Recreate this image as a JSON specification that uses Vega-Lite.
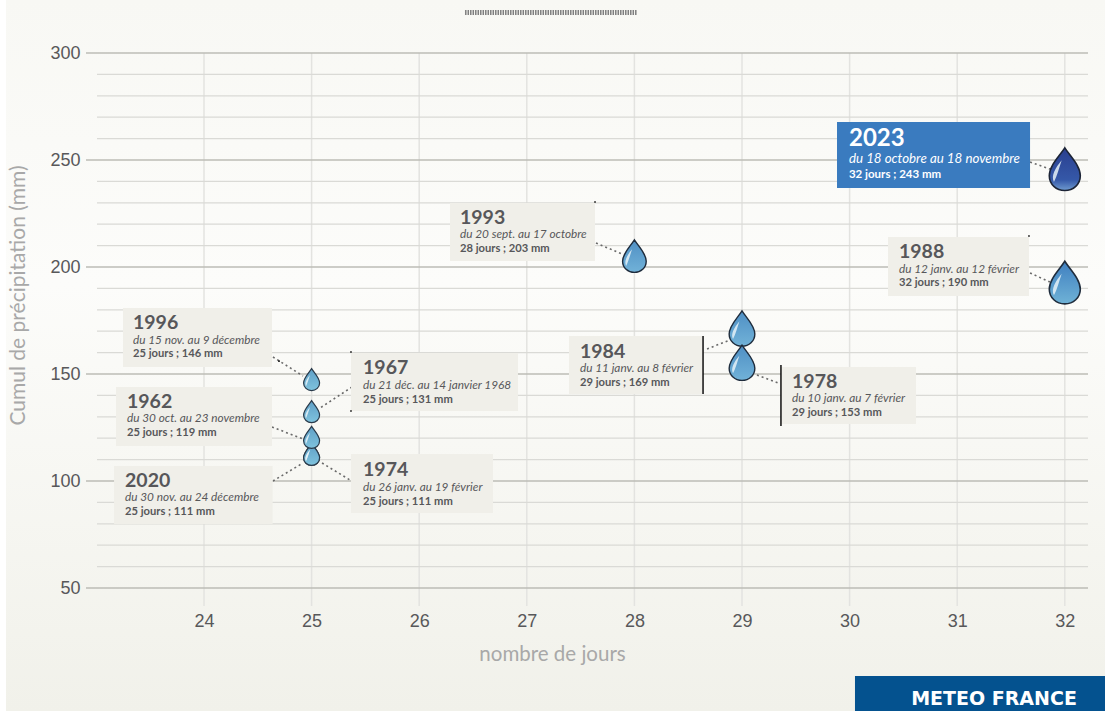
{
"$schema":"https://vega.github.io/schema/vega-lite/v6.json",
"width":991,"height":535,
"autosize":{"type":"none"},
"padding":{"left":97,"top":53,"right":17,"bottom":123},
"background":"#ffffff",
"config":{"view":{"stroke":null},"font":"Lato"},
"resolve":{"axis":{"x":"independent","y":"independent"}},
"datasets":{
"notes":[
{"year":"1996","period":"du 15 nov. au 9 décembre","detail":"25 jours ; 146 mm","bx0":23.247,"bx1":24.632,"by0":180.84,"by1":153.27,"tx":23.34,"t1":171.03,"t2":164.02,"t3":157.94,"lx0":24.641,"lx1":24.92,"ly0":157.94,"ly1":149.07},
{"year":"1962","period":"du 30 oct. au 23 novembre","detail":"25 jours ; 119 mm","bx0":23.182,"bx1":24.632,"by0":143.93,"by1":116.36,"tx":23.284,"t1":134.11,"t2":127.57,"t3":121.03,"lx0":24.632,"lx1":24.92,"ly0":125.23,"ly1":119.63},
{"year":"2020","period":"du 30 nov. au 24 décembre","detail":"25 jours ; 111 mm","bx0":23.164,"bx1":24.638,"by0":107.01,"by1":79.91,"tx":23.266,"t1":97.2,"t2":90.65,"t3":84.11,"lx0":24.641,"lx1":24.92,"ly0":100,"ly1":108.41},
{"year":"1967","period":"du 21 déc. au 14 janvier 1968","detail":"25 jours ; 131 mm","bx0":25.366,"bx1":26.918,"by0":159.81,"by1":132.71,"tx":25.478,"t1":150,"t2":143.2,"t3":136.45,"lx0":25.375,"lx1":25.078,"ly0":143.93,"ly1":134.11},
{"year":"1974","period":"du 26 janv. au 19 février","detail":"25 jours ; 111 mm","bx0":25.366,"bx1":26.686,"by0":112.62,"by1":85.05,"tx":25.478,"t1":102.3,"t2":95.5,"t3":88.79,"lx0":25.097,"lx1":25.357,"ly0":108.41,"ly1":100.47},
{"year":"1984","period":"du 11 janv. au 8 février","detail":"29 jours ; 169 mm","bx0":27.392,"bx1":28.638,"by0":167.76,"by1":140.65,"tx":27.494,"t1":157.48,"t2":150.93,"t3":144.39,"lx0":28.675,"lx1":28.888,"ly0":161.68,"ly1":165.89},
{"year":"1978","period":"du 10 janv. au 7 février","detail":"29 jours ; 153 mm","bx0":29.362,"bx1":30.617,"by0":153.27,"by1":126.64,"tx":29.465,"t1":143.46,"t2":136.92,"t3":130.37,"lx0":29.139,"lx1":29.335,"ly0":149.53,"ly1":145.79},
{"year":"1993","period":"du 20 sept. au 17 octobre","detail":"28 jours ; 203 mm","bx0":26.286,"bx1":27.634,"by0":229.91,"by1":202.8,"tx":26.379,"t1":220.09,"t2":213.55,"t3":207.01,"lx0":27.643,"lx1":27.885,"ly0":211.21,"ly1":206.07},
{"year":"1988","period":"du 12 janv. au 12 février","detail":"32 jours ; 190 mm","bx0":30.357,"bx1":31.667,"by0":214.02,"by1":186.45,"tx":30.459,"t1":204.21,"t2":197.2,"t3":191.12,"lx0":31.677,"lx1":31.862,"ly0":197.2,"ly1":192.99},
{"year":"2023","period":"du 18 octobre au 18 novembre","detail":"32 jours ; 243 mm","bx0":29.883,"bx1":31.677,"by0":267.76,"by1":236.92,"tx":29.994,"t1":256.54,"t2":248.6,"t3":241.59,"lx0":31.677,"lx1":31.862,"ly0":249.07,"ly1":245.79}
],
"drops":[
{"year":"1996","days":25,"mm":146},
{"year":"1967","days":25,"mm":131},
{"year":"2020","days":25,"mm":111},
{"year":"1974","days":25,"mm":111},
{"year":"1962","days":25,"mm":119},
{"year":"1993","days":28,"mm":203},
{"year":"1984","days":29,"mm":169},
{"year":"1978","days":29,"mm":153},
{"year":"1988","days":32,"mm":190},
{"year":"2023","days":32,"mm":243}
]
},
"encoding":{
"x":{"field":"x","type":"quantitative","axis":null,"scale":{"domain":[23.0056,32.2156],"nice":false,"zero":false}},
"y":{"field":"y","type":"quantitative","axis":null,"scale":{"domain":[50,300],"nice":false,"zero":false}}
},
"layer":[
{"data":{"values":[{"x":22.1599,"x1":32.374,"y":324.77,"y1":-7.48}]},
 "mark":{"type":"rect","fill":{"gradient":"linear","x1":0,"y1":0,"x2":0,"y2":1,"stops":[{"offset":0,"color":"#f8f8f4"},{"offset":0.4,"color":"#fcfcfa"},{"offset":1,"color":"#f1f1ea"}]}},
 "encoding":{
 "x":{"field":"x","type":"quantitative","scale":{"domain":[23.0056,32.2156],"nice":false,"zero":false},
 "axis":{"title":"nombre de jours","zindex":1,"values":[24,25,26,27,28,29,30,31,32],"format":"d","grid":false,"domain":false,"ticks":false,"labelFont":"Liberation Sans","labelFontSize":18,"labelColor":"#58585a","labelPadding":24,"titleFont":"Lato","titleFontSize":20.5,"titleFontWeight":"normal","titleColor":"#a8a8a8","titleX":455,"titleY":66,"titleBaseline":"middle"}},
 "y":{"field":"y","type":"quantitative","scale":{"domain":[50,300],"nice":false,"zero":false},
 "axis":{"title":"Cumul de précipitation (mm)","zindex":1,"values":[50,100,150,200,250,300],"grid":false,"domain":false,"ticks":false,"labelFont":"Liberation Sans","labelFontSize":18,"labelColor":"#58585a","labelPadding":17,"titleFont":"Lato","titleFontSize":21,"titleFontWeight":"normal","titleColor":"#a8a8a8","titleX":-79,"titleY":242,"titleBaseline":"middle"}},
 "x2":{"field":"x1"},"y2":{"field":"y1"}}},
{"data":{"values":[{"x":24,"y":300,"y1":41.6},{"x":25,"y":300,"y1":41.6},{"x":26,"y":300,"y1":41.6},{"x":27,"y":300,"y1":41.6},{"x":28,"y":300,"y1":41.6},{"x":29,"y":300,"y1":41.6},{"x":30,"y":300,"y1":41.6},{"x":31,"y":300,"y1":41.6},{"x":32,"y":300,"y1":41.6}]},
 "mark":{"type":"rule","stroke":"#e3e3e0","strokeWidth":1.5},
 "encoding":{"y2":{"field":"y1"}}},
{"data":{"values":[{"y":60},{"y":70},{"y":80},{"y":90},{"y":110},{"y":120},{"y":130},{"y":140},{"y":160},{"y":170},{"y":180},{"y":190},{"y":210},{"y":220},{"y":230},{"y":240},{"y":260},{"y":270},{"y":280},{"y":290}]},
 "mark":{"type":"rule","stroke":"#dadad6","strokeWidth":1.2},
 "encoding":{"x":null}},
{"data":{"values":[{"y":50,"x":22.9034,"x1":32.2156},{"y":100,"x":22.9034,"x1":32.2156},{"y":150,"x":22.9034,"x1":32.2156},{"y":200,"x":22.9034,"x1":32.2156},{"y":250,"x":22.9034,"x1":32.2156},{"y":300,"x":22.9034,"x1":32.2156}]},
 "mark":{"type":"rule","stroke":"#bcbcb6","strokeWidth":1.5},
 "encoding":{"x2":{"field":"x1"}}},
{"data":{"values":[{"x":26.426,"x1":28.024,"y":318.93}]},
 "mark":{"type":"rule","stroke":"#7e7e7e","strokeWidth":5,"strokeDash":[1.5,1]},
 "encoding":{"x2":{"field":"x1"}}},
{"data":{"name":"notes"},
 "mark":{"type":"rule","stroke":"#6a6a6a","strokeWidth":1.6,"strokeDash":[2,3]},
 "encoding":{"x":{"field":"lx0","type":"quantitative","axis":null},"x2":{"field":"lx1"},"y":{"field":"ly0","type":"quantitative","axis":null},"y2":{"field":"ly1"}}},
{"data":{"name":"notes"},
 "mark":{"type":"rect"},
 "encoding":{"x":{"field":"bx0","type":"quantitative","axis":null},"x2":{"field":"bx1"},"y":{"field":"by0","type":"quantitative","axis":null},"y2":{"field":"by1"},
 "fill":{"condition":{"test":"datum.year==='2023'","value":"#3a7bbf"},"value":"#f0efe9"}}},
{"data":{"values":[{"x":28.638,"y":167.76,"y1":140.65},{"x":29.362,"y":154.21,"y1":125.7}]},
 "mark":{"type":"rule","stroke":"#111111","strokeWidth":1.5},
 "encoding":{"y2":{"field":"y1"}}},
{"data":{"values":[{"x":27.634,"y":230.37},{"x":31.667,"y":214.49},{"x":25.366,"y":160.28},{"x":25.366,"y":132.71},{"x":24.697,"y":156.07}]},
 "mark":{"type":"point","shape":"square","filled":true,"size":3,"color":"#222222","opacity":1}},
{"data":{"name":"drops"},
 "encoding":{"x":{"field":"days","type":"quantitative","axis":null},"y":{"field":"mm","type":"quantitative","axis":null},
 "size":{"field":"days","type":"quantitative","legend":null,"scale":{"domain":[25,32],"range":[256,961],"zero":false}}},
 "layer":[
 {"transform":[{"filter":"datum.days===25"}],
  "mark":{"type":"point","filled":true,"opacity":1,"shape":"M0,-1.75 C0.35,-1.2 1,-0.6 1,0.05 C1,0.6 0.55,1 0,1 C-0.55,1 -1,0.6 -1,0.05 C-1,-0.6 -0.35,-1.2 0,-1.75 Z","stroke":"#2a3a4a","strokeWidth":1.2,"fill":{"gradient":"linear","x1":0,"y1":0,"x2":0,"y2":1,"stops":[{"offset":0,"color":"#5f9fc6"},{"offset":1,"color":"#7fc3de"}]}}},
 {"transform":[{"filter":"datum.days===28||datum.days===29"}],
  "mark":{"type":"point","filled":true,"opacity":1,"shape":"M0,-1.75 C0.35,-1.2 1,-0.6 1,0.05 C1,0.6 0.55,1 0,1 C-0.55,1 -1,0.6 -1,0.05 C-1,-0.6 -0.35,-1.2 0,-1.75 Z","stroke":"#1f2c3c","strokeWidth":1.4,"fill":{"gradient":"linear","x1":0,"y1":0,"x2":0,"y2":1,"stops":[{"offset":0,"color":"#4f8fc4"},{"offset":1,"color":"#71b2d8"}]}}},
 {"transform":[{"filter":"datum.year==='1988'"}],
  "mark":{"type":"point","filled":true,"opacity":1,"shape":"M0,-1.75 C0.35,-1.2 1,-0.6 1,0.05 C1,0.6 0.55,1 0,1 C-0.55,1 -1,0.6 -1,0.05 C-1,-0.6 -0.35,-1.2 0,-1.75 Z","stroke":"#1f2c3c","strokeWidth":1.6,"fill":{"gradient":"linear","x1":0,"y1":0,"x2":0,"y2":1,"stops":[{"offset":0,"color":"#3f7fc0"},{"offset":1,"color":"#6fb2d6"}]}}},
 {"transform":[{"filter":"datum.year==='2023'"}],
  "mark":{"type":"point","filled":true,"opacity":1,"shape":"M0,-1.75 C0.35,-1.2 1,-0.6 1,0.05 C1,0.6 0.55,1 0,1 C-0.55,1 -1,0.6 -1,0.05 C-1,-0.6 -0.35,-1.2 0,-1.75 Z","stroke":"#1c2436","strokeWidth":1.6,"fill":{"gradient":"linear","x1":0,"y1":0,"x2":0,"y2":1,"stops":[{"offset":0,"color":"#2a3f8f"},{"offset":0.75,"color":"#3558a8"},{"offset":1,"color":"#6f9bd0"}]}}},
 {"mark":{"type":"point","filled":true,"opacity":0.85,"fill":"#e6f2f8","stroke":null,"strokeWidth":0,"shape":"M-0.7,0.45 C-0.9,0.05 -0.62,-0.45 -0.2,-0.95 C-0.38,-0.4 -0.5,0.05 -0.7,0.45 Z"}}
 ]},
{"data":{"name":"notes"},
 "mark":{"type":"text","align":"left","baseline":"alphabetic","font":"Lato","fontWeight":"bold"},
 "encoding":{"x":{"field":"tx","type":"quantitative","axis":null},"y":{"field":"t1","type":"quantitative","axis":null},"text":{"field":"year"},
 "size":{"condition":{"test":"datum.year==='2023'","value":24},"value":19.5},
 "color":{"condition":{"test":"datum.year==='2023'","value":"#ffffff"},"value":"#57575a"}}},
{"data":{"name":"notes"},
 "mark":{"type":"text","align":"left","baseline":"alphabetic","font":"Lato","fontStyle":"italic"},
 "encoding":{"x":{"field":"tx","type":"quantitative","axis":null},"y":{"field":"t2","type":"quantitative","axis":null},"text":{"field":"period"},
 "size":{"condition":{"test":"datum.year==='2023'","value":13.3},"value":11.8},
 "color":{"condition":{"test":"datum.year==='2023'","value":"#ffffff"},"value":"#57575a"}}},
{"data":{"name":"notes"},
 "mark":{"type":"text","align":"left","baseline":"alphabetic","font":"Lato","fontWeight":"bold"},
 "encoding":{"x":{"field":"tx","type":"quantitative","axis":null},"y":{"field":"t3","type":"quantitative","axis":null},"text":{"field":"detail"},
 "size":{"condition":{"test":"datum.year==='2023'","value":11.5},"value":11.2},
 "color":{"condition":{"test":"datum.year==='2023'","value":"#ffffff"},"value":"#57575a"}}},
{"data":{"values":[{"x":30.05,"x1":32.374,"y":8.88,"y1":-7.48}]},
 "mark":{"type":"rect","fill":"#04528f"},
 "encoding":{"x2":{"field":"x1"},"y2":{"field":"y1"}}},
{"data":{"values":[{"x":31.342,"y":-4.7,"label":"METEO FRANCE"}]},
 "mark":{"type":"text","align":"center","baseline":"alphabetic","font":"DejaVu Sans","fontWeight":"bold","fontSize":19,"color":"#ffffff"},
 "encoding":{"text":{"field":"label"}}}
]
}
